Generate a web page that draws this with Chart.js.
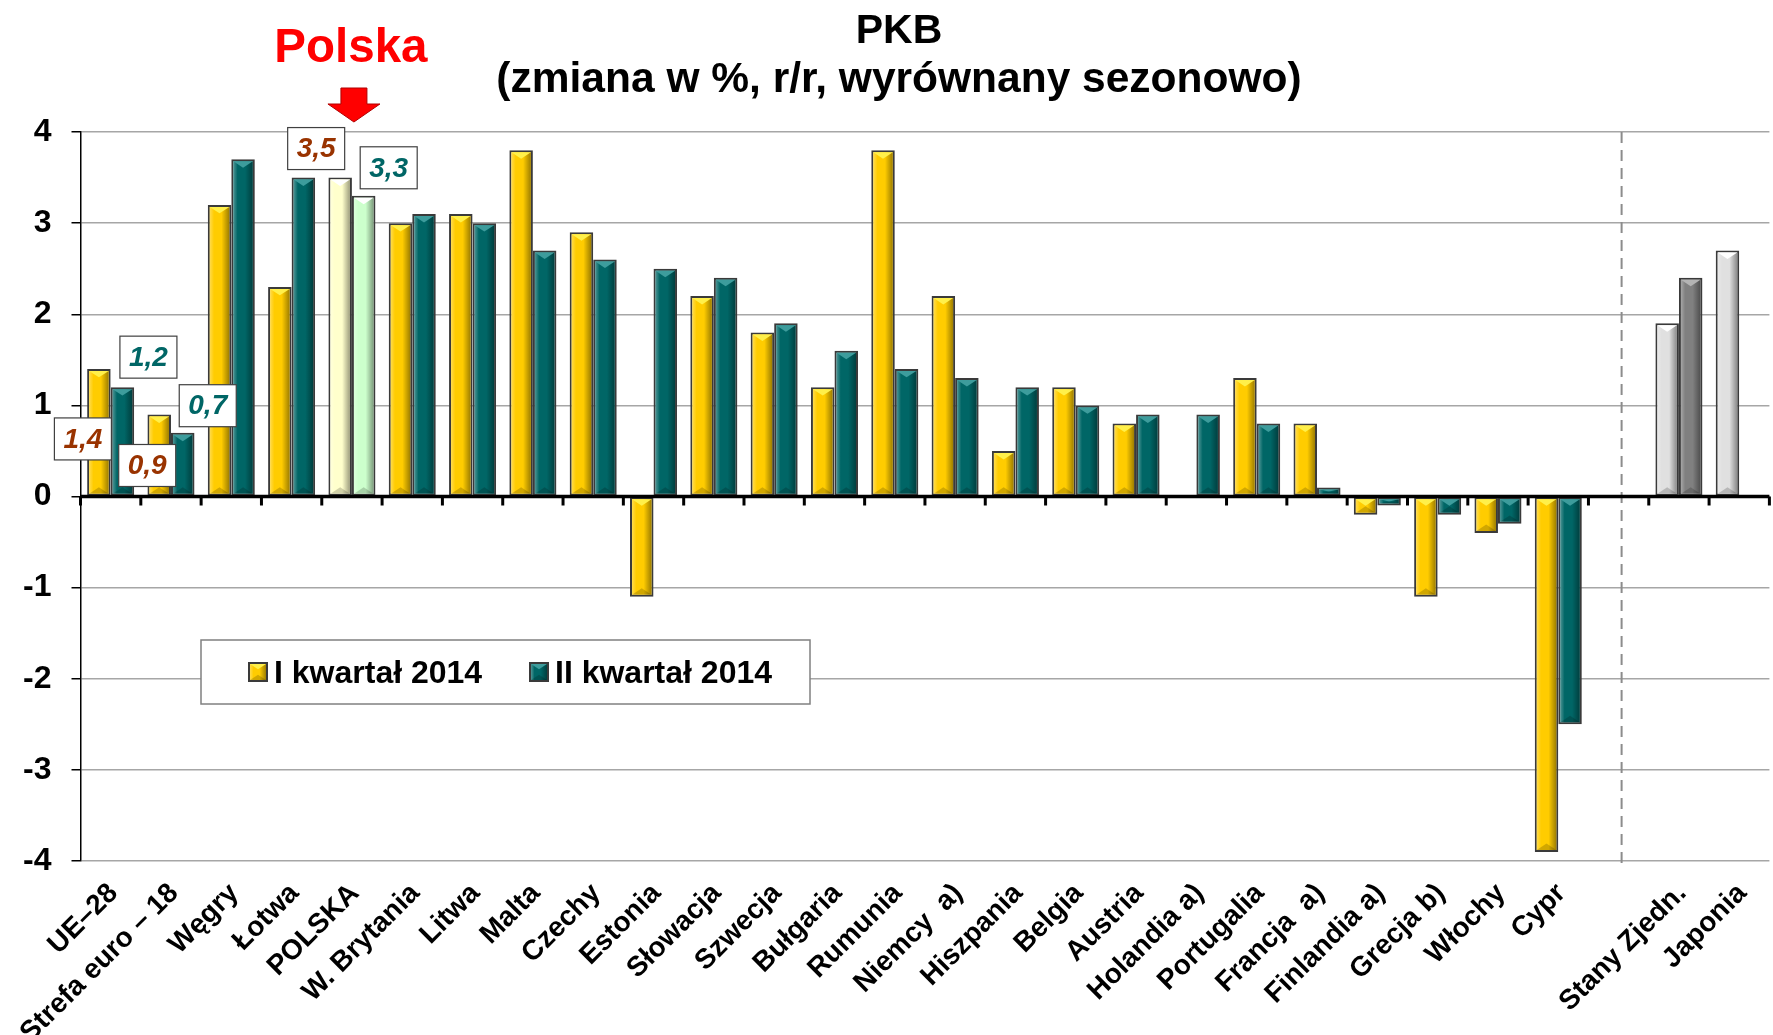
<!DOCTYPE html>
<html><head><meta charset="utf-8">
<script src="https://cdn.jsdelivr.net/npm/chart.js@4.4.0/dist/chart.umd.min.js"></script>
<style>
html,body{margin:0;padding:0;background:#fff;overflow:hidden;width:1773px;height:1035px}
#wrap{position:absolute;left:0;top:0;width:1779px;height:1035px}
</style>
</head><body><div id="wrap"><canvas id="c" width="1779" height="1035"></canvas></div>
<script>
const categories = ['UE–28','Strefa euro – 18','Węgry','Łotwa','POLSKA','W. Brytania','Litwa','Malta','Czechy','Estonia','Słowacja','Szwecja','Bułgaria','Rumunia','Niemcy  a)','Hiszpania','Belgia','Austria','Holandia a)','Portugalia','Francja  a)','Finlandia a)','Grecja b)','Włochy','Cypr','','Stany Zjedn.','Japonia'];
const q1Values = [1.4,0.9,3.2,2.3,3.5,3.0,3.1,3.8,2.9,-1.1,2.2,1.8,1.2,3.8,2.2,0.5,1.2,0.8,null,1.3,0.8,-0.2,-1.1,-0.4,-3.9,null,1.9,2.7];
const q2Values = [1.2,0.7,3.7,3.5,3.3,3.1,3.0,2.7,2.6,2.5,2.4,1.9,1.6,1.4,1.3,1.2,1.0,0.9,0.9,0.8,0.1,-0.1,-0.2,-0.3,-2.5,null,2.4,null];
const seriesNames = ['I kwartał 2014','II kwartał 2014'];
const yTicks = [-4,-3,-2,-1,0,1,2,3,4];
const titleText = 'PKB';
const subtitleText = '(zmiana w %, r/r, wyrównany sezonowo)';
const calloutText = 'Polska';
const polandIndex = 4;
const gapIndex = 25;
const labelledBars = [[0,0],[1,0],[0,1],[1,1],[0,4],[1,4]];

const FONT = "'Liberation Sans', Arial, sans-serif";
const YEL = '#FFCC00', TEAL = '#006666';
const triMap = {'#FFCC00':'#FFF04A','#006666':'#3D9C9C','#FFFFCC':'#FFFFFF','#CCFFCC':'#FFFFFF','#E0E0E0':'#FFFFFF','#808080':'#B4B4B4'};
const q1Colors = categories.map((c,i)=> i===polandIndex ? '#FFFFCC' : (i>gapIndex ? '#E0E0E0' : YEL));
const q2Colors = categories.map((c,i)=> i===polandIndex ? '#CCFFCC' : (i>gapIndex ? '#808080' : TEAL));

function bevel(ctx,l,t,r,b,tri){
  const w=r-l, h=b-t; if(w<=0||h<=0) return;
  const g=ctx.createLinearGradient(l,0,r,0);
  g.addColorStop(0,'rgba(255,255,255,0.30)');
  g.addColorStop(0.22,'rgba(255,255,255,0)');
  g.addColorStop(0.6,'rgba(0,0,0,0)');
  g.addColorStop(1,'rgba(0,0,0,0.38)');
  ctx.fillStyle=g; ctx.fillRect(l,t,w,h);
  const th=Math.min(w*0.33,h/2);
  ctx.fillStyle=tri;
  ctx.beginPath();ctx.moveTo(l,t);ctx.lineTo(r,t);ctx.lineTo((l+r)/2,t+th);ctx.closePath();ctx.fill();
  ctx.fillStyle='rgba(0,0,0,0.18)';
  ctx.beginPath();ctx.moveTo(l,b);ctx.lineTo(r,b);ctx.lineTo((l+r)/2,b-th);ctx.closePath();ctx.fill();
}

const decorPlugin = {
  id:'decor',
  beforeDatasetsDraw(chart){
    const ctx=chart.ctx, x=chart.scales.x, a=chart.chartArea;
    const gx=x.getPixelForValue(gapIndex)+3;
    ctx.save();
    ctx.strokeStyle='#8C8C8C'; ctx.lineWidth=2; ctx.setLineDash([11,7]);
    ctx.beginPath(); ctx.moveTo(gx,a.top); ctx.lineTo(gx,a.bottom+6); ctx.stroke();
    ctx.restore();
  },
  afterDatasetsDraw(chart){
    const ctx=chart.ctx, xs=chart.scales.x, ys=chart.scales.y, a=chart.chartArea;
    ctx.save();
    chart.data.datasets.forEach((ds,di)=>{
      const meta=chart.getDatasetMeta(di);
      meta.data.forEach((el,i)=>{
        if(ds.data[i]==null) return;
        const p=el.getProps(['x','y','base','width'],true);
        const bw=2;
        const l=p.x-p.width/2+bw, r=p.x+p.width/2-bw;
        const t=Math.min(p.y,p.base)+bw, b=Math.max(p.y,p.base)-bw;
        bevel(ctx,l,t,r,b,triMap[ds.backgroundColor[i]]);
      });
    });
    const y0=ys.getPixelForValue(0);
    ctx.strokeStyle='#000'; ctx.lineWidth=3.5;
    ctx.beginPath(); ctx.moveTo(a.left,y0); ctx.lineTo(a.right,y0); ctx.stroke();
    const n=categories.length, cw=(a.right-a.left)/n;
    ctx.lineWidth=3;
    for(let i=0;i<=n;i++){
      const tx=xs.getPixelForValue(i)-cw/2;
      ctx.beginPath(); ctx.moveTo(tx,y0); ctx.lineTo(tx,y0+9); ctx.stroke();
    }
    ctx.restore();
  },
  afterDraw(chart){
    const ctx=chart.ctx, xs=chart.scales.x, ys=chart.scales.y;
    ctx.save();
    ctx.fillStyle='#000'; ctx.textAlign='center'; ctx.textBaseline='alphabetic';
    ctx.font='bold 41px '+FONT; ctx.fillText(titleText,899,43);
    ctx.font='bold 42.5px '+FONT; ctx.fillText(subtitleText,899,92);
    const px=xs.getPixelForValue(polandIndex)+2;
    ctx.fillStyle='#FF0000'; ctx.font='bold 47.5px '+FONT; ctx.fillText(calloutText,px-3,62);
    ctx.beginPath();
    ctx.moveTo(px-13,88);ctx.lineTo(px+13,88);ctx.lineTo(px+13,104);ctx.lineTo(px+26,104);
    ctx.lineTo(px,122);ctx.lineTo(px-26,104);ctx.lineTo(px-13,104);ctx.closePath();
    ctx.fill(); ctx.strokeStyle='#B00000'; ctx.lineWidth=1; ctx.stroke();
    const offs={'0,0':[-16,70],'1,0':[26,-30],'0,1':[-12,51],'1,1':[25,-27],'0,4':[-24,-29],'1,4':[25,-28]};
    labelledBars.forEach(([di,i])=>{
      const el=chart.getDatasetMeta(di).data[i];
      const v=chart.data.datasets[di].data[i];
      const o=offs[di+','+i];
      const cx=el.x+o[0], cy=ys.getPixelForValue(v)+o[1];
      ctx.fillStyle='#fff'; ctx.fillRect(cx-28.5,cy-21,57,42);
      ctx.strokeStyle='#404040'; ctx.lineWidth=1.2; ctx.strokeRect(cx-28.5,cy-21,57,42);
      ctx.fillStyle= di===0 ? '#993300' : '#006666';
      ctx.font='italic bold 28px '+FONT; ctx.textAlign='center'; ctx.textBaseline='middle';
      ctx.fillText(v.toFixed(1).replace('.',','),cx,cy+1);
    });
    ctx.fillStyle='#fff'; ctx.fillRect(201,640,609,64);
    ctx.strokeStyle='#808080'; ctx.lineWidth=1.5; ctx.strokeRect(201,640,609,64);
    const items=[[248,YEL],[529,TEAL]];
    ctx.font='bold 32px '+FONT; ctx.textAlign='left'; ctx.textBaseline='alphabetic';
    items.forEach(([lx,col],k)=>{
      ctx.fillStyle='#3a3a3a'; ctx.fillRect(lx,662,20,20);
      ctx.fillStyle=col; ctx.fillRect(lx+2,664,16,16);
      bevel(ctx,lx+2,664,lx+18,680,triMap[col]);
      ctx.fillStyle='#000'; ctx.fillText(seriesNames[k],lx+26,683);
    });
    ctx.restore();
  }
};

const chart = new Chart(document.getElementById('c'), {
  type:'bar',
  data:{labels:categories, datasets:[
    {label:seriesNames[0], data:q1Values, backgroundColor:q1Colors, borderColor:'#3a3a3a', borderWidth:2, borderSkipped:false, categoryPercentage:0.78, barPercentage:1.0},
    {label:seriesNames[1], data:q2Values, backgroundColor:q2Colors, borderColor:'#3a3a3a', borderWidth:2, borderSkipped:false, categoryPercentage:0.78, barPercentage:1.0}
  ]},
  options:{
    responsive:false, animation:false,
    layout:{autoPadding:false, padding:{top:132,left:0,right:0,bottom:0}},
    plugins:{legend:{display:false}, tooltip:{enabled:false}, title:{display:false}},
    scales:{
      x:{
        grid:{display:false, drawTicks:false}, border:{display:false},
        ticks:{autoSkip:false, maxRotation:45, minRotation:45, padding:16, labelOffset:3, color:'#000', font:{family:FONT, size:28, weight:'bold'}},
        afterFit(s){ s.height=174; }
      },
      y:{
        min:-4, max:4,
        afterBuildTicks(s){ s.ticks = yTicks.map(v=>({value:v})); },
        ticks:{padding:20, color:'#000', font:{family:FONT, size:32, weight:'bold'}, callback:(v)=>String(v)},
        grid:{color:'#A6A6A6', lineWidth:1.5, tickLength:9, tickColor:'#000', tickWidth:1.5},
        border:{display:true, color:'#000', width:1.5},
        afterFit(s){ s.width=80.5; }
      }
    }
  },
  plugins:[decorPlugin]
});
</script>
</body></html>
